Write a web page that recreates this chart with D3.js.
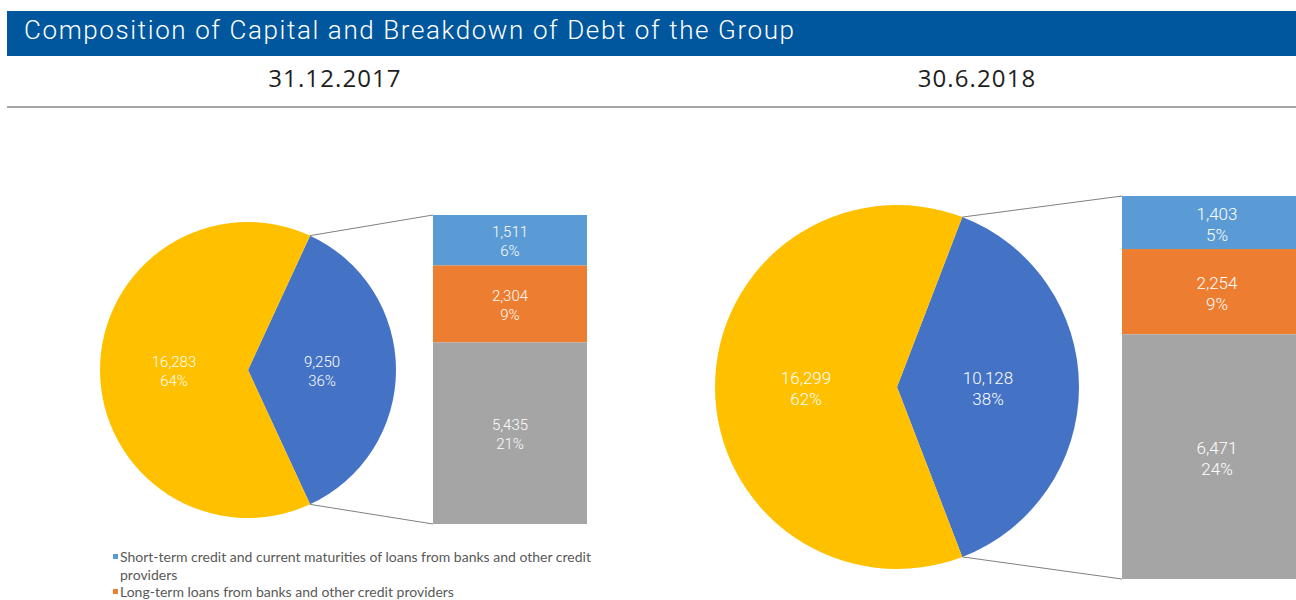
<!DOCTYPE html>
<html>
<head>
<meta charset="utf-8">
<script src="https://cdn.jsdelivr.net/npm/d3@7"></script>
<style>
  body { margin: 0; background: #fff; }
  svg { display: block; }
</style>
</head>
<body>
<svg id="chart"></svg>
<script>
// chart data
const titleText = "Composition of Capital and Breakdown of Debt of the Group";
const dates = ["31.12.2017", "30.6.2018"];
const capitalValues = [16283, 16299];
const debtValues = [9250, 10128];
const shortTermValues = [1511, 1403];
const longTermValues = [2304, 2254];
const otherDebtValues = [5435, 6471];
const legendLabels = [
  ["Short-term credit and current maturities of loans from banks and other credit", "providers"],
  ["Long-term loans from banks and other credit providers"]
];

// colours (Office theme)
const capitalColor = "#ffc000";
const debtColor = "#4472c4";
const barColors = ["#5b9bd5", "#ed7d31", "#a5a5a5"];
const connectorColor = "#808080";

const width = 1296;
const height = 600;

const svg = d3.select("#chart")
  .attr("width", width)
  .attr("height", height)
  .attr("viewBox", `0 0 ${width} ${height}`);

// header band
svg.append("rect")
  .attr("x", 7).attr("y", 11)
  .attr("width", width - 7).attr("height", 45)
  .attr("fill", "#00579d");

svg.append("text")
  .attr("x", 24).attr("y", 39)
  .attr("fill", "#fff")
  .attr("textLength", 770)
  .attr("lengthAdjust", "spacing")
  .style("font-family", "Roboto, sans-serif")
  .style("font-size", "26px")
  .style("font-weight", "300")
  .text(titleText);

svg.append("line")
  .attr("x1", 7).attr("x2", width)
  .attr("y1", 107).attr("y2", 107)
  .attr("stroke", "#a6a6a6")
  .attr("stroke-width", 2);

// the two panels, positioned by hand to follow the reference layout
const panels = [
  { dateX: 335, cx: 248, cy: 370, r: 148, barX: 433, barW: 154, barTop: 215, barBottom: 524, fontSize: 15 },
  { dateX: 977, cx: 897, cy: 387, r: 182, barX: 1122, barW: 190, barTop: 196, barBottom: 579, fontSize: 17 }
];

const fmtNum = d3.format(",");
const fmtPct = d3.format(".0%");

panels.forEach((p, i) => {
  svg.append("text")
    .attr("x", p.dateX).attr("y", 87)
    .attr("text-anchor", "middle")
    .attr("fill", "#1e1e1e")
    .style("font-family", "'Open Sans', sans-serif")
    .style("font-size", "24px")
    .style("letter-spacing", "1.1px")
    .text(dates[i]);

  const total = capitalValues[i] + debtValues[i];
  const pieData = [
    { name: "debt", value: debtValues[i], color: debtColor },
    { name: "capital", value: capitalValues[i], color: capitalColor }
  ];
  const debtShare = debtValues[i] / total;

  // debt slice centred on the right side
  const pie = d3.pie()
    .sort(null)
    .value((d) => d.value)
    .startAngle(Math.PI / 2 - debtShare * Math.PI)
    .endAngle(Math.PI / 2 - debtShare * Math.PI + 2 * Math.PI);

  const arcs = pie(pieData);
  const arc = d3.arc().innerRadius(0).outerRadius(p.r);
  const labelArc = d3.arc().innerRadius(p.r * 0.5).outerRadius(p.r * 0.5);

  const g = svg.append("g").attr("transform", `translate(${p.cx},${p.cy})`);

  g.selectAll(".slice")
    .data(arcs)
    .enter()
    .append("path")
    .attr("class", "slice")
    .attr("d", arc)
    .attr("fill", (d) => d.data.color);

  const lineH = Math.round(p.fontSize * 1.25);

  const pieLabels = g.selectAll(".pie-label")
    .data(arcs)
    .enter()
    .append("text")
    .attr("class", "pie-label")
    .attr("text-anchor", "middle")
    .attr("fill", "#fff")
    .style("font-family", "Roboto, sans-serif")
    .style("font-weight", "300")
    .style("font-size", p.fontSize + "px");

  pieLabels.append("tspan")
    .attr("x", (d) => labelArc.centroid(d)[0])
    .attr("y", (d) => labelArc.centroid(d)[1] - 3)
    .text((d) => fmtNum(d.data.value));

  pieLabels.append("tspan")
    .attr("x", (d) => labelArc.centroid(d)[0])
    .attr("y", (d) => labelArc.centroid(d)[1] - 3 + lineH)
    .text((d) => fmtPct(d.data.value / total));

  // breakdown bar of the debt slice
  const barValues = [shortTermValues[i], longTermValues[i], otherDebtValues[i]];
  const ends = d3.cumsum(barValues);
  const segments = barValues.map((v, k) => ({ value: v, start: ends[k] - v, end: ends[k], color: barColors[k] }));

  const y = d3.scaleLinear()
    .domain([0, d3.sum(barValues)])
    .range([p.barTop, p.barBottom]);

  // connector lines from the slice edges to the bar
  const debtArc = arcs[0];
  const topPt = [p.cx + p.r * Math.sin(debtArc.startAngle), p.cy - p.r * Math.cos(debtArc.startAngle)];
  const botPt = [p.cx + p.r * Math.sin(debtArc.endAngle), p.cy - p.r * Math.cos(debtArc.endAngle)];

  svg.append("line")
    .attr("x1", topPt[0]).attr("y1", topPt[1])
    .attr("x2", p.barX).attr("y2", y(0))
    .attr("stroke", connectorColor).attr("stroke-width", 1);
  svg.append("line")
    .attr("x1", botPt[0]).attr("y1", botPt[1])
    .attr("x2", p.barX).attr("y2", y(d3.sum(barValues)))
    .attr("stroke", connectorColor).attr("stroke-width", 1);

  svg.selectAll(".bar-seg-" + i)
    .data(segments)
    .enter()
    .append("rect")
    .attr("class", "bar-seg-" + i)
    .attr("x", p.barX)
    .attr("y", (d) => y(d.start))
    .attr("width", p.barW)
    .attr("height", (d) => y(d.end) - y(d.start))
    .attr("fill", (d) => d.color);

  const barLabels = svg.selectAll(".bar-label-" + i)
    .data(segments)
    .enter()
    .append("text")
    .attr("class", "bar-label-" + i)
    .attr("text-anchor", "middle")
    .attr("fill", "#fff")
    .style("font-family", "Roboto, sans-serif")
    .style("font-weight", "300")
    .style("font-size", p.fontSize + "px");

  barLabels.append("tspan")
    .attr("x", p.barX + p.barW / 2)
    .attr("y", (d) => (y(d.start) + y(d.end)) / 2 - 3)
    .text((d) => fmtNum(d.value));

  barLabels.append("tspan")
    .attr("x", p.barX + p.barW / 2)
    .attr("y", (d) => (y(d.start) + y(d.end)) / 2 - 3 + lineH)
    .text((d) => fmtPct(d.value / total));
});

// legend under the left chart (cut off by the frame like the reference)
let legendY = 562;
legendLabels.forEach((lines, k) => {
  svg.append("rect")
    .attr("x", 113).attr("y", legendY - 8)
    .attr("width", 5).attr("height", 5)
    .attr("fill", barColors[k]);
  lines.forEach((line, j) => {
    svg.append("text")
      .attr("x", 120).attr("y", legendY + j * 17.5)
      .attr("fill", "#595959")
      .style("font-family", "Lato, sans-serif")
      .style("font-size", "14px")
      .text(line);
  });
  legendY += lines.length * 17.5;
});
</script>
</body>
</html>
